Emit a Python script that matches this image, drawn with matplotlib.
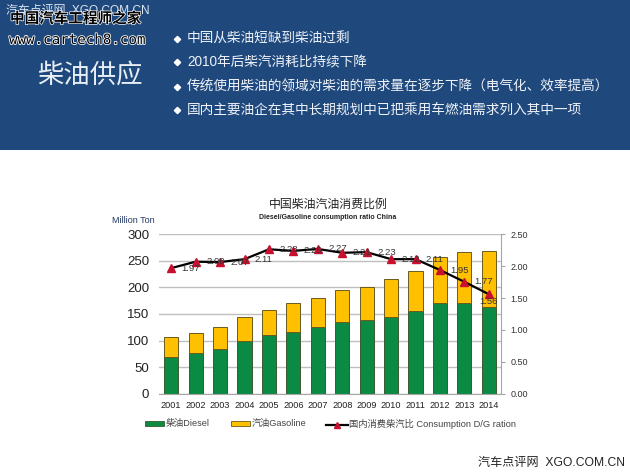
import matplotlib
matplotlib.use('Agg')
import matplotlib.pyplot as plt
import matplotlib.patheffects as pe
from matplotlib.patches import Rectangle
from matplotlib.lines import Line2D

plt.rcParams['font.family'] = ['Liberation Sans', 'Noto Sans CJK SC', 'DejaVu Sans']

years = [2001, 2002, 2003, 2004, 2005, 2006, 2007, 2008, 2009, 2010, 2011, 2012, 2013, 2014]
diesel = [70, 77, 84, 99, 110, 117, 125, 135, 138, 145, 155, 170, 170, 163]
gasoline = [36, 37, 41, 46, 48, 53, 55, 61, 62, 70, 75, 87, 97, 105]
ratio = [1.97, 2.07, 2.065, 2.11, 2.265, 2.24, 2.27, 2.21, 2.22, 2.11, 2.11, 1.94, 1.755, 1.56]
ratio_labels = ['1.97', '2.08', '2.07', '2.11', '2.28', '2.25', '2.27', '2.21', '2.23', '2.12', '2.11', '1.95', '1.77', '1.56']
bullets = ['中国从柴油短缺到柴油过剩', '2010年后柴汽消耗比持续下降',
           '传统使用柴油的领域对柴油的需求量在逐步下降（电气化、效率提高）',
           '国内主要油企在其中长期规划中已把乘用车燃油需求列入其中一项']
bullet_y = [38.5, 62, 86.5, 110]

W, H = 630, 473
fig = plt.figure(figsize=(W / 100, H / 100), dpi=100, facecolor='white')
bg = fig.add_axes([0, 0, 1, 1])
bg.set_xlim(0, W)
bg.set_ylim(H, 0)
bg.axis('off')
BLUE = '#1f497d'
bg.add_patch(Rectangle((0, 0), W, 150, color=BLUE, lw=0))
bg.text(90, 75, '柴油供应', color='#e8eef6', fontsize=19, ha='center', va='center')
bg.text(6, 11, '汽车点评网  XGO.COM.CN', color='#dbe3ee', fontsize=8.6, va='center')
bg.text(10, 19, '中国汽车工程师之家', color='black', fontsize=10.5, va='center', fontweight='bold',
        path_effects=[pe.withStroke(linewidth=1.0, foreground='white')])
bg.text(9, 40, 'www.cartech8.com', color='black', fontsize=10.2, va='center', family='DejaVu Sans Mono',
        path_effects=[pe.withStroke(linewidth=1.2, foreground='white')])
for t, y in zip(bullets, bullet_y):
    bg.plot([177], [y + 0.5], marker='D', ms=3.2, color='white', lw=0)
    bg.text(187, y, t, color='#eef2f8', fontsize=9.85, va='center')

L, R, T, B = 159, 501, 234.3, 393.7
ax = fig.add_axes([L / W, 1 - B / H, (R - L) / W, (B - T) / H])
ax.set_xlim(2000.5, 2014.5)
ax.set_ylim(0, 300)
ax.set_axisbelow(True)
ax.grid(axis='y', color='#bfbfbf', lw=1.0)
ax.bar(years, diesel, width=0.58, color='#0b8a43', edgecolor='#3a5a30', lw=0.7, zorder=2)
ax.bar(years, gasoline, width=0.58, bottom=diesel, color='#ffc000', edgecolor='#6b5a20', lw=0.7, zorder=2)
ax.set_xticks(years)
ax.set_xticklabels(years, fontsize=6.6, color='#222222')
ax.set_yticks(range(0, 301, 50))
ax.tick_params(axis='y', labelsize=9.5, length=0, pad=7, labelcolor='#222222')
ax.tick_params(axis='x', length=0, pad=5)
for s in ['top', 'right', 'left']:
    ax.spines[s].set_visible(False)
ax.spines['bottom'].set_color('#a6a6a6')

ax2 = ax.twinx()
ax2.set_ylim(0, 2.5)
ax2.set_yticks([0, 0.5, 1, 1.5, 2, 2.5])
ax2.set_yticklabels(['0.00', '0.50', '1.00', '1.50', '2.00', '2.50'], fontsize=6.5, color='#333333')
ax2.tick_params(axis='y', length=3, color='#a6a6a6', pad=4)
for s in ['top', 'left', 'bottom']:
    ax2.spines[s].set_visible(False)
ax2.spines['right'].set_color('#a6a6a6')
ax2.plot(years, ratio, color='black', lw=1.6, marker='^', ms=5.5, mfc='#c8102e', mec='#c8102e', zorder=5)
for x, y, lab in zip(years, ratio, ratio_labels):
    if lab == '1.56':
        ax2.annotate(lab, (x, y), xytext=(0, -5.5), textcoords='offset points', ha='center', va='center',
                     fontsize=6.8, color='#333333', zorder=6)
    else:
        ax2.annotate(lab, (x, y), xytext=(7.5, 0), textcoords='offset points', ha='left', va='center',
                     fontsize=6.8, color='#333333', zorder=6)

bg.text(328, 204.5, '中国柴油汽油消费比例', fontsize=8.6, ha='center', va='center', color='#222222')
bg.text(328, 217, 'Diesel/Gasoline consumption ratio China', fontsize=5.0, fontweight='bold', ha='center', va='center', color='#222222')
bg.text(112, 220, 'Million Ton', fontsize=6.5, color='#1f3864', va='center')

# legend
bg.add_patch(Rectangle((145, 421), 19, 5, fc='#0b8a43', ec='#3a5a30', lw=0.6))
bg.text(166, 423.5, '柴油Diesel', fontsize=6.6, va='center', color='#444444')
bg.add_patch(Rectangle((231, 421), 19, 5, fc='#ffc000', ec='#6b5a20', lw=0.6))
bg.text(252, 423.5, '汽油Gasoline', fontsize=6.6, va='center', color='#444444')
bg.add_line(Line2D([326, 348], [425, 425], color='black', lw=1.6))
bg.plot([337], [424.5], marker='^', ms=4.5, color='#c8102e', lw=0)
bg.text(349, 423.5, '国内消费柴汽比 Consumption D/G ration', fontsize=6.7, va='center', color='#444444')

bg.text(625, 463, '汽车点评网  XGO.COM.CN', fontsize=8.7, ha='right', va='center', color='#222222')

fig.savefig('out.png', dpi=100)
